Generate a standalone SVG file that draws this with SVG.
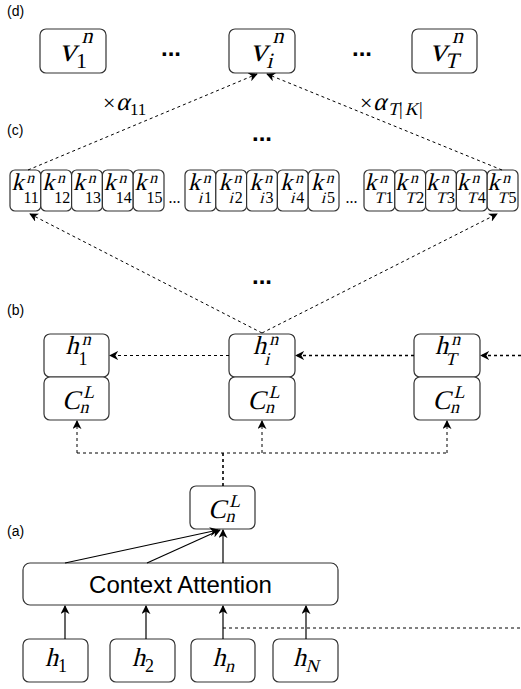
<svg xmlns="http://www.w3.org/2000/svg" width="521" height="689" viewBox="0 0 521 689">
  <defs>
    <marker id="arr" viewBox="0 0 10 10" refX="9" refY="5" markerWidth="9" markerHeight="9" markerUnits="userSpaceOnUse" orient="auto">
      <path d="M0,0 L10,5 L0,10 L3,5 z" fill="#000"/>
    </marker>
    <style>
      .box { fill: #fff; stroke: #333; stroke-width: 1.2; }
      .lbl { font-family: "Liberation Sans", Arial, sans-serif; font-size: 14px; fill: #000; }
      .sans { font-family: "Liberation Sans", Arial, sans-serif; fill: #000; }
      .r { font-family: "Liberation Serif", "Times New Roman", serif; fill: #000; }
      .dots { font-family: "Liberation Sans", Arial, sans-serif; font-weight: bold; font-size: 24px; fill: #000; text-anchor: middle; }
      .sdots { font-family: "Liberation Serif", serif; font-size: 16px; fill: #000; text-anchor: middle; }
      .dash { fill: none; stroke: #000; stroke-width: 1; stroke-dasharray: 3 3; }
      .dashb { fill: none; stroke: #000; stroke-width: 1.6; stroke-dasharray: 3 3; }
      .solid { fill: none; stroke: #000; stroke-width: 1.2; }
      .fv { font-size: 34px; }
      .fvs { font-size: 22px; }
      .fk { font-size: 24px; }
      .fks { font-size: 16px; }
      .fh { font-size: 26px; }
      .fhs { font-size: 18px; }
      .fc { font-size: 27px; }
    </style>
  </defs>

  <!-- panel labels -->
  <text class="lbl" x="7" y="16">(d)</text>
  <text class="lbl" x="7" y="135">(c)</text>
  <text class="lbl" x="7" y="315">(b)</text>
  <text class="lbl" x="7" y="536">(a)</text>

  <!-- (d) value nodes; math letters are slanted serif glyphs -->
  <g id="v1">
    <rect class="box" x="40" y="29" width="66" height="44" rx="6"/>
    <g transform="translate(73,61)">
      <g transform="skewX(-14)"><text class="r fv" x="-14" y="0">v</text><text class="r fvs" x="4" y="-18">n</text></g>
      <text class="r fvs" x="3" y="7">1</text>
    </g>
  </g>
  <g id="vi">
    <rect class="box" x="229" y="29" width="66" height="44" rx="6"/>
    <g transform="translate(262,61)">
      <g transform="skewX(-14)"><text class="r fv" x="-12" y="0">v</text><text class="r fvs" x="6" y="-18">n</text><text class="r fvs" x="6" y="7">i</text></g>
    </g>
  </g>
  <g id="vT">
    <rect class="box" x="412" y="29" width="65" height="44" rx="6"/>
    <g transform="translate(444.5,61)">
      <g transform="skewX(-14)"><text class="r fv" x="-15" y="0">v</text><text class="r fvs" x="3" y="-18">n</text><text class="r fvs" x="2" y="7">T</text></g>
    </g>
  </g>
  <text class="dots" x="171" y="56">...</text>
  <text class="dots" x="362" y="56">...</text>

  <!-- weights -->
  <g id="w11">
    <text class="r" x="103" y="110" font-size="22">×</text>
    <g transform="translate(116,110) skewX(-14)"><text class="r" x="0" y="0" font-size="25">α</text></g>
    <text class="r" x="130" y="115" font-size="17">11</text>
  </g>
  <g id="wTK">
    <text class="r" x="360" y="110" font-size="22">×</text>
    <g transform="translate(373,110) skewX(-14)">
      <text class="r" x="0" y="0" font-size="25">α</text>
      <text class="r" x="16" y="5" font-size="18">T</text>
      <text class="r" x="33" y="5" font-size="18">K</text>
    </g>
    <text class="r" x="399" y="115" font-size="18">|</text>
    <text class="r" x="419" y="115" font-size="18">|</text>
  </g>

  <!-- (c) key nodes -->
  <text class="dots" x="262" y="141">...</text>
  <g id="k11"><rect class="box" x="10" y="170" width="30.8" height="41" rx="5"/><g transform="translate(25.4,190)"><g transform="skewX(-14)"><text class="r fk" x="-14" y="0">k</text><text class="r fks" x="-1" y="-7">n</text></g><text class="r fks" x="-2" y="13">11</text></g></g>
  <g id="k12"><rect class="box" x="40.8" y="170" width="30.8" height="41" rx="5"/><g transform="translate(56.2,190)"><g transform="skewX(-14)"><text class="r fk" x="-14" y="0">k</text><text class="r fks" x="-1" y="-7">n</text></g><text class="r fks" x="-2" y="13">12</text></g></g>
  <g id="k13"><rect class="box" x="71.6" y="170" width="30.8" height="41" rx="5"/><g transform="translate(87,190)"><g transform="skewX(-14)"><text class="r fk" x="-14" y="0">k</text><text class="r fks" x="-1" y="-7">n</text></g><text class="r fks" x="-2" y="13">13</text></g></g>
  <g id="k14"><rect class="box" x="102.4" y="170" width="30.8" height="41" rx="5"/><g transform="translate(117.8,190)"><g transform="skewX(-14)"><text class="r fk" x="-14" y="0">k</text><text class="r fks" x="-1" y="-7">n</text></g><text class="r fks" x="-2" y="13">14</text></g></g>
  <g id="k15"><rect class="box" x="133.2" y="170" width="30.8" height="41" rx="5"/><g transform="translate(148.6,190)"><g transform="skewX(-14)"><text class="r fk" x="-14" y="0">k</text><text class="r fks" x="-1" y="-7">n</text></g><text class="r fks" x="-2" y="13">15</text></g></g>
  <text class="sdots" x="174.5" y="203">...</text>
  <g id="ki1"><rect class="box" x="185" y="170" width="30.8" height="41" rx="5"/><g transform="translate(200.4,190)"><g transform="skewX(-14)"><text class="r fk" x="-12.5" y="0">k</text><text class="r fks" x="0.5" y="-7">n</text><text class="r fks" x="0.5" y="13">i</text></g><text class="r fks" x="3.5" y="13">1</text></g></g>
  <g id="ki2"><rect class="box" x="215.8" y="170" width="30.8" height="41" rx="5"/><g transform="translate(231.2,190)"><g transform="skewX(-14)"><text class="r fk" x="-12.5" y="0">k</text><text class="r fks" x="0.5" y="-7">n</text><text class="r fks" x="0.5" y="13">i</text></g><text class="r fks" x="3.5" y="13">2</text></g></g>
  <g id="ki3"><rect class="box" x="246.6" y="170" width="30.8" height="41" rx="5"/><g transform="translate(262,190)"><g transform="skewX(-14)"><text class="r fk" x="-12.5" y="0">k</text><text class="r fks" x="0.5" y="-7">n</text><text class="r fks" x="0.5" y="13">i</text></g><text class="r fks" x="3.5" y="13">3</text></g></g>
  <g id="ki4"><rect class="box" x="277.4" y="170" width="30.8" height="41" rx="5"/><g transform="translate(292.8,190)"><g transform="skewX(-14)"><text class="r fk" x="-12.5" y="0">k</text><text class="r fks" x="0.5" y="-7">n</text><text class="r fks" x="0.5" y="13">i</text></g><text class="r fks" x="3.5" y="13">4</text></g></g>
  <g id="ki5"><rect class="box" x="308.2" y="170" width="30.8" height="41" rx="5"/><g transform="translate(323.6,190)"><g transform="skewX(-14)"><text class="r fk" x="-12.5" y="0">k</text><text class="r fks" x="0.5" y="-7">n</text><text class="r fks" x="0.5" y="13">i</text></g><text class="r fks" x="3.5" y="13">5</text></g></g>
  <text class="sdots" x="351.5" y="203">...</text>
  <g id="kT1"><rect class="box" x="364" y="170" width="30.8" height="41" rx="5"/><g transform="translate(379.4,190)"><g transform="skewX(-14)"><text class="r fk" x="-15" y="0">k</text><text class="r fks" x="-2" y="-7">n</text><text class="r fks" x="-2" y="13">T</text></g><text class="r fks" x="6" y="13">1</text></g></g>
  <g id="kT2"><rect class="box" x="394.8" y="170" width="30.8" height="41" rx="5"/><g transform="translate(410.2,190)"><g transform="skewX(-14)"><text class="r fk" x="-15" y="0">k</text><text class="r fks" x="-2" y="-7">n</text><text class="r fks" x="-2" y="13">T</text></g><text class="r fks" x="6" y="13">2</text></g></g>
  <g id="kT3"><rect class="box" x="425.6" y="170" width="30.8" height="41" rx="5"/><g transform="translate(441,190)"><g transform="skewX(-14)"><text class="r fk" x="-15" y="0">k</text><text class="r fks" x="-2" y="-7">n</text><text class="r fks" x="-2" y="13">T</text></g><text class="r fks" x="6" y="13">3</text></g></g>
  <g id="kT4"><rect class="box" x="456.4" y="170" width="30.8" height="41" rx="5"/><g transform="translate(471.8,190)"><g transform="skewX(-14)"><text class="r fk" x="-15" y="0">k</text><text class="r fks" x="-2" y="-7">n</text><text class="r fks" x="-2" y="13">T</text></g><text class="r fks" x="6" y="13">4</text></g></g>
  <g id="kT5"><rect class="box" x="487.2" y="170" width="30.8" height="41" rx="5"/><g transform="translate(502.6,190)"><g transform="skewX(-14)"><text class="r fk" x="-15" y="0">k</text><text class="r fks" x="-2" y="-7">n</text><text class="r fks" x="-2" y="13">T</text></g><text class="r fks" x="6" y="13">5</text></g></g>

  <!-- (b) hidden state nodes -->
  <text class="dots" x="262" y="284">...</text>
  <g id="h1n">
    <rect class="box" x="44" y="334" width="65" height="43" rx="6"/>
    <g transform="translate(76.5,354)"><g transform="skewX(-14)"><text class="r fh" x="-11" y="0">h</text><text class="r fhs" x="3" y="-9">n</text></g><text class="r fhs" x="2" y="11">1</text></g>
  </g>
  <g id="C1">
    <rect class="box" x="44" y="377" width="65" height="43" rx="6"/>
    <g transform="translate(76.5,409)"><g transform="skewX(-14)"><text class="r fc" x="-14.5" y="0">C</text><text class="r fhs" x="4" y="-11">L</text><text class="r fhs" x="4" y="4">n</text></g></g>
  </g>
  <g id="hin">
    <rect class="box" x="229" y="334" width="66" height="43" rx="6"/>
    <g transform="translate(262,354)"><g transform="skewX(-14)"><text class="r fh" x="-9" y="0">h</text><text class="r fhs" x="5" y="-9">n</text><text class="r fhs" x="5" y="11">i</text></g></g>
  </g>
  <g id="Ci">
    <rect class="box" x="229" y="377" width="66" height="43" rx="6"/>
    <g transform="translate(262,409)"><g transform="skewX(-14)"><text class="r fc" x="-14.5" y="0">C</text><text class="r fhs" x="4" y="-11">L</text><text class="r fhs" x="4" y="4">n</text></g></g>
  </g>
  <g id="hTn">
    <rect class="box" x="414" y="334" width="66" height="43" rx="6"/>
    <g transform="translate(447,354)"><g transform="skewX(-14)"><text class="r fh" x="-12" y="0">h</text><text class="r fhs" x="2" y="-9">n</text><text class="r fhs" x="1" y="11">T</text></g></g>
  </g>
  <g id="CT">
    <rect class="box" x="414" y="377" width="66" height="43" rx="6"/>
    <g transform="translate(447,409)"><g transform="skewX(-14)"><text class="r fc" x="-14.5" y="0">C</text><text class="r fhs" x="4" y="-11">L</text><text class="r fhs" x="4" y="4">n</text></g></g>
  </g>

  <!-- (a) context attention -->
  <g id="Ca">
    <rect class="box" x="190" y="486" width="65" height="43" rx="6"/>
    <g transform="translate(222.5,518)"><g transform="skewX(-14)"><text class="r fc" x="-14.5" y="0">C</text><text class="r fhs" x="4" y="-11">L</text><text class="r fhs" x="4" y="4">n</text></g></g>
  </g>
  <g id="attn">
    <rect class="box" x="23" y="563" width="315" height="42" rx="7"/>
    <text class="sans" x="180.5" y="593" font-size="24" text-anchor="middle">Context Attention</text>
  </g>
  <g id="h1">
    <rect class="box" x="23" y="639" width="65" height="43" rx="6"/>
    <g transform="translate(55.5,666)"><g transform="skewX(-14)"><text class="r fh" x="-10.5" y="0">h</text></g><text class="r fhs" x="2.5" y="6">1</text></g>
  </g>
  <g id="h2">
    <rect class="box" x="110" y="639" width="65" height="43" rx="6"/>
    <g transform="translate(142.5,666)"><g transform="skewX(-14)"><text class="r fh" x="-10.5" y="0">h</text></g><text class="r fhs" x="2.5" y="6">2</text></g>
  </g>
  <g id="hn">
    <rect class="box" x="191" y="639" width="64" height="43" rx="6"/>
    <g transform="translate(223,666)"><g transform="skewX(-14)"><text class="r fh" x="-10.5" y="0">h</text><text class="r fhs" x="3.5" y="6">n</text></g></g>
  </g>
  <g id="hN">
    <rect class="box" x="273" y="639" width="65" height="43" rx="6"/>
    <g transform="translate(305.5,666)"><g transform="skewX(-14)"><text class="r fh" x="-12.5" y="0">h</text><text class="r fhs" x="1.5" y="6">N</text></g></g>
  </g>

  <!-- connectors -->
  <g id="connectors">
    <!-- keys to value -->
    <path class="dash" d="M28,170 L257,74" marker-end="url(#arr)"/>
    <path class="dash" d="M502,170 L267,74" marker-end="url(#arr)"/>
    <!-- hidden state to keys -->
    <path class="dash" d="M262,333 L30,214" marker-end="url(#arr)"/>
    <path class="dash" d="M262,333 L497,214" marker-end="url(#arr)"/>
    <!-- recurrence -->
    <path class="dash" d="M229,355.5 L110,355.5" marker-end="url(#arr)"/>
    <path class="dashb" d="M414,355.5 L296,355.5" marker-end="url(#arr)"/>
    <path class="dashb" d="M521,355.5 L481,355.5" marker-end="url(#arr)"/>
    <!-- context broadcast -->
    <path class="dashb" d="M223,486 L223,453"/>
    <path class="dash" d="M77,453 L447,453"/>
    <path class="dash" d="M77,453 L77,421" marker-end="url(#arr)"/>
    <path class="dash" d="M262,453 L262,421" marker-end="url(#arr)"/>
    <path class="dash" d="M447,453 L447,421" marker-end="url(#arr)"/>
    <!-- attention outputs -->
    <path class="solid" d="M65,563 L218,530" marker-end="url(#arr)"/>
    <path class="solid" d="M147,563 L220,530" marker-end="url(#arr)"/>
    <path class="solid" d="M223,563 L223,530" marker-end="url(#arr)"/>
    <!-- inputs -->
    <path class="solid" d="M65,639 L65,606" marker-end="url(#arr)"/>
    <path class="solid" d="M146,639 L146,606" marker-end="url(#arr)"/>
    <path class="solid" d="M223,639 L223,606" marker-end="url(#arr)"/>
    <path class="solid" d="M306,639 L306,606" marker-end="url(#arr)"/>
    <path class="dash" d="M223,628 L521,628" stroke="#444"/>
  </g>
</svg>
